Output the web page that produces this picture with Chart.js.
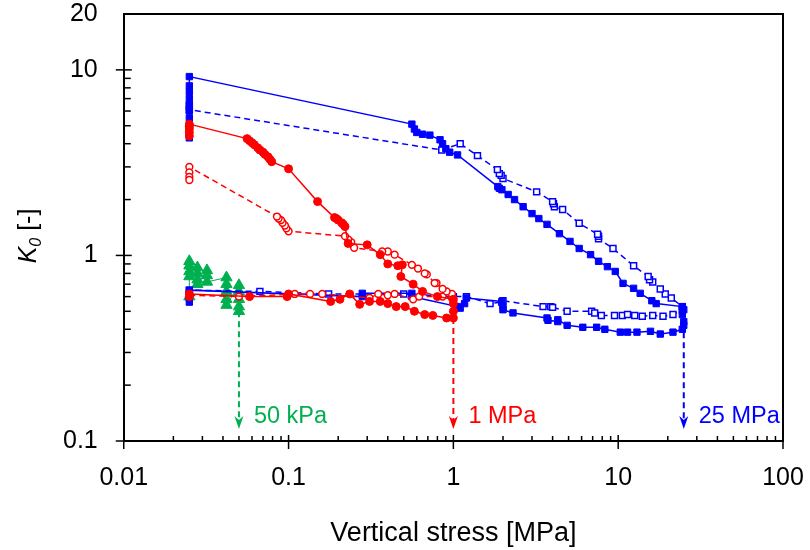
<!DOCTYPE html>
<html>
<head>
<meta charset="utf-8">
<script src="https://cdn.jsdelivr.net/npm/chart.js@4.4.1/dist/chart.umd.min.js"></script>
<style>
  body { margin: 0; background: #fff; }
  #wrap { width: 810px; height: 550px; }
</style>
</head>
<body>
<div id="wrap"><canvas id="k0" width="810" height="550"></canvas></div>
<script>
const FONT = "'Liberation Sans', Arial, sans-serif";

// axis ticks
const xTicks = [0.01, 0.1, 1, 10, 100];
const yTicks = [0.1, 1, 10, 20];

// 25 MPa test, first run (solid, filled squares) and repeat (dashed, open squares)
const blueSolid = [
  [0.025, 0.56], [0.025, 0.59], [0.025, 0.62], [0.025, 0.65],
  [0.28, 0.6], [0.28, 0.625], [0.56, 0.625], [0.56, 0.6],
  [1.06, 0.53], [1.1, 0.52], [1.17, 0.55], [1.2, 0.59],
  [1.97, 0.565], [2.0, 0.53], [2.0, 0.51], [2.3, 0.49],
  [3.7, 0.46], [3.75, 0.447], [4.3, 0.44], [4.3, 0.45], [4.9, 0.42], [6.1, 0.41], [7.4, 0.41], [8.3, 0.4],
  [10.3, 0.386], [11.4, 0.386], [13, 0.386], [15.7, 0.39], [18, 0.377], [21.5, 0.386], [24.5, 0.4],
  [25, 0.42], [25, 0.44], [24.5, 0.48], [25, 0.51], [24.5, 0.53],
  [17, 0.55], [16, 0.57], [13.6, 0.625], [12.4, 0.665], [10.7, 0.707], [9.6, 0.82], [8.6, 0.87],
  [7.6, 0.93], [6.8, 1.01], [5.8, 1.09], [5.1, 1.19], [4.4, 1.31], [3.7, 1.47], [3.3, 1.58],
  [3.0, 1.68], [2.65, 1.83], [2.35, 2.0], [2.15, 2.13], [1.97, 2.26], [1.9, 2.3], [1.86, 2.35],
  [1.06, 3.48], [0.95, 3.6], [0.9, 3.76], [0.86, 4.0], [0.83, 4.2], [0.72, 4.45], [0.65, 4.5],
  [0.6, 4.6], [0.58, 4.8], [0.56, 5.1],
  [0.025, 9.2], [0.025, 8.2], [0.025, 7.6], [0.025, 7.0], [0.025, 6.5], [0.025, 6.0],
  [0.025, 5.5], [0.025, 5.0], [0.025, 4.6], [0.025, 4.3]
];
const blueDashed = [
  [0.025, 0.62], [0.025, 0.65], [0.067, 0.64], [0.175, 0.62], [0.5, 0.62],
  [1.0, 0.6], [1.2, 0.6], [1.67, 0.55], [1.97, 0.56], [2.0, 0.57], [3.5, 0.53], [3.9, 0.53],
  [4.0, 0.525], [4.9, 0.5], [6.9, 0.5], [7.2, 0.49], [7.9, 0.475], [9.5, 0.475], [10.6, 0.475],
  [11.4, 0.48], [12.6, 0.475], [14, 0.47], [16.2, 0.475], [18.7, 0.47], [21.5, 0.48],
  [24.5, 0.51], [24.5, 0.53],
  [21, 0.59], [19.3, 0.62], [18, 0.66], [16.2, 0.72], [15.5, 0.74], [15.2, 0.77], [12.4, 0.88],
  [9.3, 1.09], [7.6, 1.23], [7.6, 1.27], [7.5, 1.3], [5.8, 1.49], [4.6, 1.77], [4.1, 1.83],
  [4.05, 1.9], [4.0, 1.95], [3.2, 2.2], [2.0, 2.6], [1.95, 2.7], [1.9, 2.76], [1.85, 2.9],
  [1.4, 3.45], [1.1, 4.0], [0.85, 3.7],
  [0.025, 6.1], [0.025, 6.4]
];

// 1 MPa test
const redSolid = [
  [0.025, 0.6], [0.025, 0.62], [0.058, 0.6], [0.098, 0.6], [0.1, 0.62], [0.18, 0.565],
  [0.205, 0.58], [0.235, 0.62], [0.27, 0.545], [0.31, 0.565], [0.36, 0.565], [0.4, 0.55],
  [0.45, 0.53], [0.51, 0.53], [0.58, 0.5], [0.67, 0.48], [0.75, 0.475], [0.91, 0.46],
  [1.0, 0.46], [1.0, 0.5], [1.0, 0.55], [1.0, 0.58],
  [0.8, 0.6], [0.65, 0.64], [0.57, 0.7], [0.48, 0.77], [0.49, 0.89], [0.46, 0.88], [0.4, 0.9],
  [0.36, 1.01], [0.3, 1.14], [0.23, 1.16], [0.22, 1.43], [0.215, 1.47], [0.21, 1.5], [0.2, 1.55],
  [0.195, 1.58], [0.19, 1.6], [0.15, 1.95], [0.1, 2.93], [0.079, 3.2], [0.077, 3.3], [0.075, 3.4],
  [0.072, 3.5], [0.07, 3.6], [0.067, 3.7], [0.065, 3.8], [0.062, 3.95], [0.06, 4.05],
  [0.058, 4.15], [0.056, 4.26], [0.025, 5.1], [0.025, 4.95], [0.025, 4.8], [0.025, 4.6], [0.025, 4.4]
];
const redDashed = [
  [0.025, 0.61], [0.05, 0.6], [0.109, 0.62], [0.135, 0.62], [0.16, 0.62], [0.31, 0.59],
  [0.35, 0.62], [0.4, 0.61], [0.44, 0.62], [0.57, 0.58], [0.62, 0.6], [0.86, 0.6], [0.98, 0.59],
  [0.98, 0.62], [0.91, 0.64], [0.86, 0.66], [0.79, 0.71], [0.77, 0.71], [0.69, 0.79], [0.67, 0.8],
  [0.61, 0.85], [0.56, 0.89], [0.44, 1.01], [0.4, 1.05], [0.37, 1.05], [0.25, 1.1], [0.24, 1.18],
  [0.23, 1.22], [0.22, 1.27], [0.1, 1.35], [0.097, 1.4], [0.095, 1.45], [0.092, 1.5],
  [0.09, 1.55], [0.087, 1.58], [0.085, 1.62],
  [0.025, 3.0], [0.025, 2.8], [0.025, 2.65], [0.025, 2.55]
];

// 50 kPa test
const greenSolid = [
  [0.025, 0.6], [0.025, 0.77], [0.025, 0.82], [0.025, 0.88], [0.025, 0.93],
  [0.028, 0.86], [0.028, 0.8], [0.028, 0.74], [0.028, 0.7],
  [0.032, 0.83], [0.032, 0.78], [0.032, 0.72],
  [0.042, 0.76], [0.042, 0.7], [0.042, 0.64], [0.042, 0.58], [0.042, 0.54],
  [0.05, 0.69], [0.05, 0.64], [0.05, 0.58], [0.05, 0.53], [0.05, 0.5]
];

// max stress arrows
const arrowX = [0.05, 1, 25];
const arrowFrom = [0.5, 0.46, 0.385];
const arrowLabels = ['50 kPa', '1 MPa', '25 MPa'];
const arrowColors = ['#00B050', '#FF0000', '#0000FF'];

const pts = a => a.map(([x, y]) => ({ x, y }));

function series(data, color, style, opts) {
  return Object.assign({
    data: pts(data),
    showLine: true,
    borderColor: color,
    backgroundColor: color,
    pointBackgroundColor: color,
    pointBorderColor: color,
    pointStyle: style,
    borderWidth: 1.5,
    pointBorderWidth: 1,
    pointRadius: 3.5
  }, opts || {});
}

function tickLine(ctx, x1, y1, x2, y2) {
  ctx.beginPath(); ctx.moveTo(x1, y1); ctx.lineTo(x2, y2); ctx.stroke();
}

// box, tick marks, arrows and y title
const extras = {
  id: 'extras',
  afterDraw(chart) {
    const { ctx, chartArea: a, scales: { x, y } } = chart;
    ctx.save();
    ctx.strokeStyle = '#000';
    ctx.lineWidth = 2;
    ctx.beginPath();
    ctx.moveTo(a.left, a.top); ctx.lineTo(a.right, a.top); ctx.lineTo(a.right, a.bottom);
    ctx.stroke();

    // major ticks cross the axis, minor ticks point inward
    ctx.lineWidth = 1.5;
    xTicks.forEach((v, i) => {
      const p = x.getPixelForValue(v);
      tickLine(ctx, p, a.bottom + 8, p, a.bottom - 6);
      if (i < xTicks.length - 1) {
        for (let m = 2; m <= 9; m++) {
          const q = x.getPixelForValue(v * m);
          tickLine(ctx, q, a.bottom, q, a.bottom - 5);
        }
      }
    });
    [0.1, 1, 10].forEach((v, i) => {
      const p = y.getPixelForValue(v);
      tickLine(ctx, a.left - 8, p, a.left + 8, p);
      if (i < 2) {
        for (let m = 2; m <= 9; m++) {
          const q = y.getPixelForValue(v * m);
          tickLine(ctx, a.left, q, a.left + 7, q);
        }
      }
    });

    // arrows down to the axis
    const tip = a.bottom - 12;
    arrowX.forEach((v, i) => {
      const px = x.getPixelForValue(v);
      const top = y.getPixelForValue(arrowFrom[i]);
      ctx.strokeStyle = arrowColors[i];
      ctx.fillStyle = arrowColors[i];
      ctx.lineWidth = 2;
      ctx.setLineDash([6, 4]);
      tickLine(ctx, px, top, px, tip - 8);
      ctx.setLineDash([]);
      ctx.beginPath();
      ctx.moveTo(px, tip);
      ctx.lineTo(px - 4.5, tip - 13);
      ctx.lineTo(px, tip - 9);
      ctx.lineTo(px + 4.5, tip - 13);
      ctx.closePath();
      ctx.fill();
      ctx.font = '23.5px ' + FONT;
      ctx.textAlign = 'left';
      ctx.textBaseline = 'middle';
      ctx.fillText(arrowLabels[i], px + 15, a.bottom - 24);
    });

    // y axis title: K0 [-]
    ctx.fillStyle = '#000';
    ctx.translate(27, 236);
    ctx.rotate(-Math.PI / 2);
    const fK = 'italic 25px ' + FONT, fSub = 'italic 16px ' + FONT, fN = '25px ' + FONT;
    ctx.font = fK; const wK = ctx.measureText('K').width;
    ctx.font = fSub; const wS = ctx.measureText('0').width;
    ctx.font = fN; const wR = ctx.measureText(' [-]').width;
    let cx = -(wK + wS + wR) / 2;
    ctx.textAlign = 'left';
    ctx.textBaseline = 'alphabetic';
    ctx.font = fK; ctx.fillText('K', cx, 9); cx += wK;
    ctx.font = fSub; ctx.fillText('0', cx, 14); cx += wS;
    ctx.font = fN; ctx.fillText(' [-]', cx, 9);
    ctx.restore();
  }
};

Chart.defaults.font.family = FONT;
Chart.defaults.color = '#000';

const hidden = 'rgba(0,0,0,0)';

new Chart(document.getElementById('k0'), {
  type: 'scatter',
  data: {
    datasets: [
      series(redSolid, '#FF0000', 'circle', { pointRadius: 4 }),
      series(redDashed, '#FF0000', 'circle', {
        borderDash: [6, 4], pointBackgroundColor: '#fff', pointBorderWidth: 1.5, pointRadius: 3.4
      }),
      series(blueSolid, '#0000FF', 'rect', { pointRadius: 4.5 }),
      series(blueDashed, '#0000FF', 'rect', {
        borderDash: [6, 4], pointBackgroundColor: '#fff', pointBorderWidth: 1.5, pointRadius: 4.2
      }),
      series(greenSolid, '#00B050', 'triangle', { borderWidth: 1, pointRadius: 6.5 })
    ]
  },
  options: {
    responsive: false,
    animation: false,
    layout: { autoPadding: false, padding: { left: 63, right: 27, top: 14, bottom: 0 } },
    plugins: { legend: { display: false }, tooltip: { enabled: false } },
    scales: {
      x: {
        type: 'logarithmic',
        min: 0.01, max: 100,
        afterBuildTicks: s => { s.ticks = xTicks.map(v => ({ value: v })); },
        ticks: {
          callback: v => String(v),
          font: { size: 25, lineHeight: 1 },
          color: '#000', padding: 0, maxRotation: 0, autoSkip: false
        },
        // tick marks are drawn by the plugin; tickLength only reserves label spacing
        grid: { drawOnChartArea: false, drawTicks: true, tickLength: 25, color: hidden },
        border: { display: true, color: '#000', width: 2 },
        title: {
          display: true, text: 'Vertical stress [MPa]', color: '#000',
          font: { size: 27, lineHeight: 1.2 }, padding: { top: 26.6, bottom: 0 }
        }
      },
      y: {
        type: 'logarithmic',
        min: 0.1, max: 20,
        afterBuildTicks: s => { s.ticks = yTicks.map(v => ({ value: v })); },
        ticks: {
          callback: v => String(v),
          font: { size: 25, lineHeight: 1 },
          color: '#000', padding: 0, autoSkip: false
        },
        grid: { drawOnChartArea: false, drawTicks: true, tickLength: 26, color: hidden },
        border: { display: true, color: '#000', width: 2 }
      }
    }
  },
  plugins: [extras]
});
</script>
</body>
</html>
